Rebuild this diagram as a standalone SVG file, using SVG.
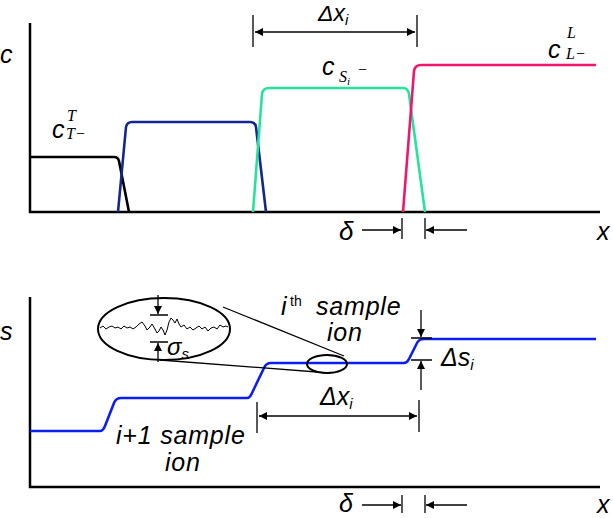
<svg xmlns="http://www.w3.org/2000/svg" width="613" height="518" viewBox="0 0 613 518">
<defs>
<style>
.ax{fill:none;stroke:#000;stroke-width:2.5}
.cv{fill:none;stroke-width:2.6;stroke-linejoin:round}
.thin{fill:none;stroke:#000;stroke-width:1.3}
.ar{fill:none;stroke:#000;stroke-width:1.3;marker-end:url(#ah)}
.ar2{fill:none;stroke:#000;stroke-width:1.3;marker-end:url(#ah);marker-start:url(#ah)}
.it{font-family:"Liberation Sans",Arial,sans-serif;font-style:italic;fill:#000}
.up{font-family:"Liberation Sans",Arial,sans-serif;fill:#000}
.tm{font-family:"Liberation Serif","Times New Roman",serif;font-style:italic;fill:#000}
</style>
<marker id="ah" viewBox="0 0 10 10" refX="10" refY="5" markerWidth="10" markerHeight="8" markerUnits="userSpaceOnUse" orient="auto-start-reverse"><path d="M0,0 L10,5 L0,10 z" fill="#000"/></marker>
</defs>
<rect width="613" height="518" fill="#fff"/>

<g id="top-panel">
<path class="ax" d="M30,23 V212 H600"/>
<path class="cv" stroke="#000" d="M30,157 H114 Q118,157 119,161 L129,212"/>
<path class="cv" stroke="#13288a" d="M118,212 L126,127 Q127,122 132,122 H250 Q255,122 256,127 L266,212"/>
<path class="cv" stroke="#26e39c" d="M253,212 L262,94 Q263,88 269,88 H403 Q408,88 409,94 L425,212"/>
<path class="cv" stroke="#f2156b" d="M403,212 L414,71 Q415,65 421,65 H596"/>
<text class="it" x="0" y="63" font-size="25">c</text>
<text class="it" x="597" y="240" font-size="25">x</text>
<text class="it" x="52" y="138" font-size="25">c</text>
<text class="tm" x="67" y="121" font-size="16">T</text>
<text class="tm" x="66" y="139" font-size="16">T−</text>
<text class="it" x="322" y="75" font-size="25">c</text>
<text class="tm" x="339" y="82" font-size="16">S<tspan font-size="11" dy="3">i</tspan></text>
<text class="tm" x="357" y="75" font-size="16">−</text>
<text class="it" x="548" y="58" font-size="25">c</text>
<text class="tm" x="567" y="38" font-size="16">L</text>
<text class="tm" x="566" y="59" font-size="16">L−</text>
</g>

<g id="top-annotations">
<path class="thin" d="M253,15 V47 M417,15 V47"/>
<path class="ar2" d="M255,32 H415"/>
<text class="it" x="318" y="21" font-size="23">Δx<tspan font-size="15" dy="4">i</tspan></text>
<path class="thin" d="M402,218 V239 M425,218 V239"/>
<path class="ar" d="M362,230 H401"/>
<path class="ar" d="M467,230 H426"/>
<text class="it" x="339" y="240" font-size="26">δ</text>
</g>

<g id="bottom-panel">
<path class="ax" d="M30,297 V487 H600"/>
<path class="cv" stroke="#0a1ef0" d="M30,431 H100 Q103,431 105,426 L114,403 Q116,398 121,398 H247 Q250,398 252,393 L264,368 Q266,363 271,363 H404 Q407,363 409,359 L417,343 Q419,339 424,339 H596"/>
<text class="it" x="0" y="340" font-size="25">s</text>
<text class="it" x="597" y="513" font-size="25">x</text>
</g>

<g id="zoom-inset">
<ellipse cx="164" cy="329" rx="66" ry="31" fill="none" stroke="#000" stroke-width="2"/>
<ellipse cx="327" cy="364" rx="20" ry="9" fill="none" stroke="#000" stroke-width="2"/>
<path class="thin" d="M223,307 L344,356 M160,360 L330,373"/>
<polyline fill="none" stroke="#000" stroke-width="1" points="100,328 103,326 106,329 109,327 112,326 115,328 118,327 121,329 124,326 127,328 130,327 133,329 136,327 139,324 142,322 145,326 147,330 150,327 152,324 155,329 157,333 159,331 161,327 163,330 165,335 167,330 169,322 171,318 173,320 175,323 177,319 179,324 181,327 184,325 187,329 190,327 193,330 196,328 199,326 202,329 205,327 208,331 211,328 214,327 217,329 220,325 223,327 226,326 228,327"/>
<path class="thin" d="M150,315 H168 M150,342 H168"/>
<path class="ar" d="M158,295 V314"/>
<path class="ar" d="M158,362 V343"/>
<text class="it" x="167" y="355" font-size="24">σ<tspan font-size="15" dy="4">s</tspan></text>
</g>

<g id="bottom-annotations">
<path class="thin" d="M257,402 V433 M419,400 V432"/>
<path class="ar2" d="M259,416 H417"/>
<text class="it" x="320" y="405" font-size="25">Δx<tspan font-size="15" dy="4">i</tspan></text>
<path class="thin" d="M411,338 H432 M411,360 H432"/>
<path class="ar" d="M421,310 V337"/>
<path class="ar" d="M421,390 V361"/>
<text class="it" x="441" y="366" font-size="25">Δs<tspan font-size="15" dy="4">i</tspan></text>
<path class="thin" d="M402,495 V513 M425,495 V513"/>
<path class="ar" d="M362,505 H401"/>
<path class="ar" d="M467,505 H426"/>
<text class="it" x="339" y="512" font-size="25">δ</text>
<text class="it" x="281" y="315" font-size="25">i</text>
<text class="up" x="290" y="306" font-size="14">th</text>
<text class="it" x="316" y="315" font-size="25" letter-spacing="0.8">sample</text>
<text class="it" x="327" y="341" font-size="25" letter-spacing="0.8">ion</text>
<text class="it" x="116" y="444" font-size="25" letter-spacing="0.8">i+1 sample</text>
<text class="it" x="165" y="471" font-size="25" letter-spacing="0.8">ion</text>
</g>
</svg>
